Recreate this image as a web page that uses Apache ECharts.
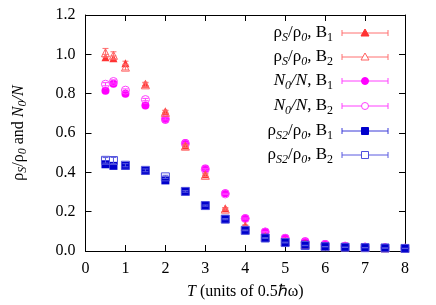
<!DOCTYPE html>
<html><head><meta charset="utf-8">
<script src="https://cdn.jsdelivr.net/npm/echarts@6/dist/echarts.min.js"></script>
<style>html,body{margin:0;padding:0;background:#fff}#c{width:436px;height:305px}</style>
</head><body><div id="c"></div>
<script>
var T = [0.5, 0.7, 1.0, 1.5, 2.0, 2.5, 3.0, 3.5, 4.0, 4.5, 5.0, 5.5, 6.0, 6.5, 7.0, 7.5, 8.0];
var rhoS_B1 = [0.985, 0.98, 0.955, 0.85, 0.71, 0.537, 0.39, 0.217, 0.13, 0.075, 0.05, 0.037, 0.027, 0.021, 0.018, 0.016, 0.014];
var rhoS_B2 = [1.008, 0.995, 0.935, 0.845, 0.705, 0.533, 0.385, 0.213, 0.125, 0.072, 0.048, 0.035, 0.026, 0.021, 0.018, 0.016, 0.014];
var N0_B1 = [0.815, 0.85, 0.80, 0.74, 0.668, 0.549, 0.42, 0.294, 0.167, 0.098, 0.066, 0.049, 0.035, 0.026, 0.021, 0.018, 0.015];
var N0_B2 = [0.848, 0.862, 0.818, 0.77, 0.672, 0.545, 0.415, 0.29, 0.165, 0.097, 0.065, 0.045, 0.033, 0.025, 0.02, 0.017, 0.015];
var rhoS2_B1 = [0.441, 0.433, 0.433, 0.408, 0.359, 0.303, 0.231, 0.162, 0.105, 0.066, 0.045, 0.032, 0.024, 0.02, 0.018, 0.016, 0.014];
var rhoS2_B2 = [0.461, 0.46, 0.436, 0.41, 0.377, 0.303, 0.231, 0.162, 0.105, 0.066, 0.043, 0.028, 0.022, 0.019, 0.017, 0.015, 0.013];
var err_rhoS_B1 = [0.015, 0.012, 0.01, 0.008, 0.006, 0.005, 0.005, 0.004, 0.003, 0.002, 0.002, 0.002, 0.001, 0.001, 0.001, 0.001, 0.001];
var err_rhoS_B2 = [0.022, 0.018, 0.014, 0.01, 0.008, 0.006, 0.006, 0.005, 0.004, 0.003, 0.002, 0.002, 0.001, 0.001, 0.001, 0.001, 0.001];
var err_N0_B1 = [0.006, 0.006, 0.005, 0.005, 0.004, 0.004, 0.004, 0.003, 0.003, 0.002, 0.002, 0.002, 0.001, 0.001, 0.001, 0.001, 0.001];
var err_N0_B2 = [0.008, 0.008, 0.006, 0.006, 0.005, 0.005, 0.004, 0.003, 0.003, 0.002, 0.002, 0.002, 0.001, 0.001, 0.001, 0.001, 0.001];
var err_rhoS2_B1 = [0.01, 0.01, 0.006, 0.006, 0.005, 0.004, 0.003, 0.003, 0.002, 0.002, 0.002, 0.001, 0.001, 0.001, 0.001, 0.001, 0.001];
var err_rhoS2_B2 = [0.014, 0.016, 0.008, 0.007, 0.008, 0.004, 0.003, 0.003, 0.002, 0.002, 0.002, 0.001, 0.001, 0.001, 0.001, 0.001, 0.001];
var xTicks = [0, 1, 2, 3, 4, 5, 6, 7, 8];
var yTicks = ['0.0', '0.2', '0.4', '0.6', '0.8', '1.0', '1.2'];

var FONT = 'Liberation Serif';
function mkRich(fs, ss, pad) {
  return {
    r: {fontFamily: FONT, fontSize: fs, color: '#000', lineHeight: fs + 2},
    i: {fontFamily: FONT, fontSize: fs, fontStyle: 'italic', color: '#000', lineHeight: fs + 2},
    si: {fontFamily: FONT, fontSize: ss, fontStyle: 'italic', color: '#000', lineHeight: ss, padding: [pad, 0, 0, 0]},
    s: {fontFamily: FONT, fontSize: ss, color: '#000', lineHeight: ss, padding: [pad, 0, 0, 0]}
  };
}
var rich = mkRich(16, 12, 9);
var legRich = mkRich(17, 12, 10);

var defs = [
  {name: 'rhoS_B1', y: rhoS_B1, e: err_rhoS_B1, sym: 'triangle', fill: '#f33', stroke: '#f33', bar: '#ff7070', size: 8, z: 3,
   label: '{r|ρ}{si|S}{r|/ρ}{si|0}{r|, B}{s|1}'},
  {name: 'rhoS_B2', y: rhoS_B2, e: err_rhoS_B2, sym: 'triangle', fill: 'rgba(0,0,0,0)', stroke: '#ff6060', bar: '#ff7070', size: 8, z: 4,
   label: '{r|ρ}{si|S}{r|/ρ}{si|0}{r|, B}{s|2}'},
  {name: 'N0_B1', y: N0_B1, e: err_N0_B1, sym: 'circle', fill: '#f0f', stroke: '#f0f', bar: '#ff40ff', size: 8, z: 1,
   label: '{i|N}{si|0}{i|/N}{r|, B}{s|1}'},
  {name: 'N0_B2', y: N0_B2, e: err_N0_B2, sym: 'circle', fill: 'rgba(0,0,0,0)', stroke: '#ff40ff', bar: '#ff40ff', size: 8, z: 2,
   label: '{i|N}{si|0}{i|/N}{r|, B}{s|2}'},
  {name: 'rhoS2_B1', y: rhoS2_B1, e: err_rhoS2_B1, sym: 'rect', fill: '#0000cc', stroke: '#0000cc', bar: '#3a3ad8', size: 8, z: 5,
   label: '{r|ρ}{si|S2}{r|/ρ}{si|0}{r|, B}{s|1}'},
  {name: 'rhoS2_B2', y: rhoS2_B2, e: err_rhoS2_B2, sym: 'rect', fill: 'rgba(0,0,0,0)', stroke: '#5050dd', bar: '#5a5ae0', size: 8, z: 6,
   label: '{r|ρ}{si|S2}{r|/ρ}{si|0}{r|, B}{s|2}'}
];

var series = [];
defs.forEach(function (d) {
  var pts = T.map(function (t, k) { return [t, d.y[k], d.e[k]]; });
  series.push({
    type: 'custom', name: d.name + '_err', z: d.z, silent: true,
    data: pts,
    renderItem: function (params, api) {
      var x = api.value(0), y = api.value(1), e = api.value(2);
      var a = api.coord([x, y + e]), b = api.coord([x, y - e]);
      return {type: 'group', children: [
        {type: 'line', shape: {x1: a[0], y1: a[1], x2: b[0], y2: b[1]}, style: {stroke: d.bar, lineWidth: 1}},
        {type: 'line', shape: {x1: a[0] - 3, y1: a[1], x2: a[0] + 3, y2: a[1]}, style: {stroke: d.bar, lineWidth: 1}},
        {type: 'line', shape: {x1: b[0] - 3, y1: b[1], x2: b[0] + 3, y2: b[1]}, style: {stroke: d.bar, lineWidth: 1}}
      ]};
    },
    encode: {x: 0, y: 1}
  });
  series.push({
    type: 'scatter', name: d.name, z: d.z, symbol: d.sym, symbolSize: d.size,
    data: pts.map(function (p) { return [p[0], p[1]]; }),
    itemStyle: {color: d.fill, borderColor: d.stroke, borderWidth: d.fill === 'rgba(0,0,0,0)' ? 1 : 0, opacity: 1},
    emphasis: {disabled: true}, animation: false
  });
});

// legend built as graphic elements
var graphics = [];
var rowY = [33, 57, 81, 106, 131, 155];
defs.forEach(function (d, k) {
  var cy = rowY[k];
  graphics.push({type: 'text', x: 333, y: cy, z: 100,
    style: {text: d.label, rich: legRich, align: 'right', verticalAlign: 'middle', fill: '#000'}});
  graphics.push({type: 'line', z: 100, shape: {x1: 342, y1: cy, x2: 388, y2: cy}, style: {stroke: d.bar, lineWidth: 1}});
  graphics.push({type: 'line', z: 100, shape: {x1: 342, y1: cy - 3, x2: 342, y2: cy + 3}, style: {stroke: d.bar, lineWidth: 1}});
  graphics.push({type: 'line', z: 100, shape: {x1: 388, y1: cy - 3, x2: 388, y2: cy + 3}, style: {stroke: d.bar, lineWidth: 1}});
  var st = {fill: d.fill === 'rgba(0,0,0,0)' ? '#fff' : d.fill, stroke: d.stroke, lineWidth: 1};
  if (d.sym === 'triangle') {
    graphics.push({type: 'polygon', z: 101, shape: {points: [[365, cy - 4], [369, cy + 3], [361, cy + 3]]}, style: st});
  } else if (d.sym === 'circle') {
    graphics.push({type: 'circle', z: 101, shape: {cx: 365, cy: cy, r: 3.5}, style: st});
  } else {
    graphics.push({type: 'rect', z: 101, shape: {x: 361.5, y: cy - 3.5, width: 7, height: 7}, style: st});
  }
});

var axisCommon = {
  axisLine: {show: true, onZero: false, lineStyle: {color: '#000', width: 1}},
  axisTick: {show: true, inside: true, length: 6, lineStyle: {color: '#000', width: 1}},
  splitLine: {show: false}
};

var option = {
  animation: false,
  backgroundColor: '#fff',
  grid: {left: 80, right: 31, top: 15, bottom: 52, containLabel: false},
  xAxis: [
    Object.assign({type: 'value', min: 0, max: 8, interval: 1, position: 'bottom',
      axisLabel: {fontFamily: FONT, fontSize: 16, color: '#000', margin: 10,
        formatter: function (v) { return xTicks.indexOf(v) >= 0 ? String(v) : ''; }},
      name: '{i|T}{r| (units of 0.5ℏω)}', nameLocation: 'middle', nameGap: 32,
      nameTextStyle: {rich: rich}}, axisCommon),
    Object.assign({type: 'value', min: 0, max: 8, interval: 1, position: 'top', axisLabel: {show: false}}, axisCommon)
  ],
  yAxis: [
    Object.assign({type: 'value', min: 0, max: 1.2, interval: 0.2, position: 'left',
      axisLabel: {fontFamily: FONT, fontSize: 16, color: '#000', margin: 10,
        formatter: function (v) { return yTicks[Math.round(v / 0.2)]; }},
      name: '{r|ρ}{si|S}{r|/ρ}{si|0}{r| and }{i|N}{si|0}{i|/N}', nameLocation: 'middle', nameGap: 58, nameRotate: 90,
      nameTextStyle: {rich: rich}}, axisCommon),
    Object.assign({type: 'value', min: 0, max: 1.2, interval: 0.2, position: 'right', axisLabel: {show: false}}, axisCommon)
  ],
  series: series,
  graphic: graphics
};
var chart = echarts.init(document.getElementById('c'), null, {renderer: 'canvas'});
chart.setOption(option);
</script></body></html>
